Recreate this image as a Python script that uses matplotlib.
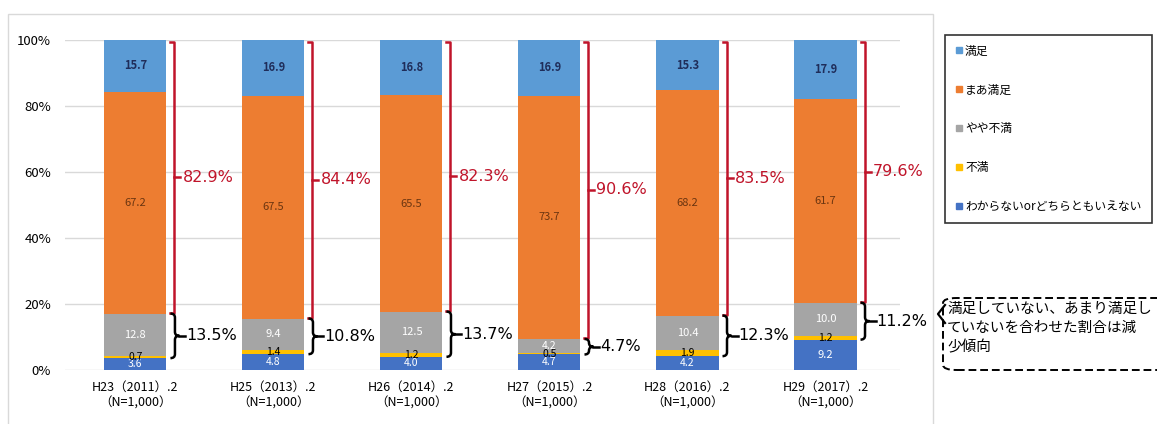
import numpy as np
import matplotlib
matplotlib.use("Agg")
import matplotlib.pyplot as plt
from matplotlib.patches import Rectangle, FancyBboxPatch, PathPatch
from matplotlib.path import Path
from matplotlib.lines import Line2D

plt.rcParams['font.family'] = ['Noto Sans CJK JP', 'DejaVu Sans']

categories = ["H23（2011）.2\n（N=1,000）", "H25（2013）.2\n（N=1,000）",
              "H26（2014）.2\n（N=1,000）", "H27（2015）.2\n（N=1,000）",
              "H28（2016）.2\n（N=1,000）", "H29（2017）.2\n（N=1,000）"]

# stacked bottom -> top
unknown      = [3.6, 4.8, 4.0, 4.7, 4.2, 9.2]
dissatisfied = [0.7, 1.4, 1.2, 0.5, 1.9, 1.2]
somewhat_dis = [12.8, 9.4, 12.5, 4.2, 10.4, 10.0]
fairly_sat   = [67.2, 67.5, 65.5, 73.7, 68.2, 61.7]
satisfied    = [15.7, 16.9, 16.8, 16.9, 15.3, 17.9]

series_names = ["わからないorどちらともいえない", "不満", "やや不満", "まあ満足", "満足"]
colors       = ["#4472C4", "#FFC000", "#A5A5A5", "#ED7D31", "#5B9BD5"]
label_colors = ["white", "black", "white", "#6B3510", "#1F2D5A"]

sat_total = [82.9, 84.4, 82.3, 90.6, 83.5, 79.6]
dis_total = [13.5, 10.8, 13.7, 4.7, 12.3, 11.2]

note = "満足していない、あまり満足し\nていないを合わせた割合は減\n少傾向"

W, H = 1157, 424
fig = plt.figure(figsize=(W / 100, H / 100), dpi=100)

def fx(px):
    return px / W

def fy(py):
    return 1 - py / H

# outer light frame
fig.patches.append(Rectangle((fx(8), fy(440)), fx(933) - fx(8), fy(14) - fy(440),
                             transform=fig.transFigure, fill=False,
                             edgecolor="#D9D9D9", lw=1))

ax_l, ax_r, ax_t, ax_b = 65, 900, 40, 370
ax = fig.add_axes([fx(ax_l), fy(ax_b), fx(ax_r - ax_l), fy(ax_t) - fy(ax_b)])

x = np.arange(len(categories))
bw = 0.45
data = [unknown, dissatisfied, somewhat_dis, fairly_sat, satisfied]
bottom = np.zeros(len(categories))
for vals, name, c, lc in zip(data, series_names, colors, label_colors):
    vals = np.array(vals)
    ax.bar(x, vals, bw, bottom=bottom, color=c, label=name, zorder=2)
    for xi, b, v in zip(x, bottom, vals):
        ax.text(xi, b + v / 2, f"{v:.1f}", ha="center", va="center",
                fontsize=7.5 if v < 5 else 8, color=lc, zorder=3,
                fontweight="bold" if lc == "#1F2D5A" else "normal")
    bottom += vals

xmin, xmax = -0.51, 5.54
ax.set_xlim(xmin, xmax)
ax.set_ylim(0, 100)
ax.set_yticks(np.arange(0, 101, 20))
ax.set_yticklabels([f"{t}%" for t in range(0, 101, 20)], fontsize=9.5)
ax.set_xticks(x)
ax.set_xticklabels(categories, fontsize=9, linespacing=1.25)
ax.tick_params(length=0, pad=8)
ax.tick_params(axis="y", pad=10)
ax.grid(axis="y", color="#D9D9D9", lw=1, zorder=0)
for s in ax.spines.values():
    s.set_visible(False)

ux = (xmax - xmin) / (ax_r - ax_l)

red = "#C0142A"
low = np.array(unknown) + np.array(dissatisfied) + np.array(somewhat_dis)
base = np.array(unknown)

def brace(x0, y0, y1, w, r):
    ym = (y0 + y1) / 2
    xm = x0 + w / 2
    verts = [(x0, y1), (xm, y1), (xm, y1 - r),
             (xm, ym + r), (xm, ym), (x0 + w, ym),
             (xm, ym), (xm, ym - r),
             (xm, y0 + r), (xm, y0), (x0, y0)]
    codes = [Path.MOVETO, Path.CURVE3, Path.CURVE3,
             Path.LINETO, Path.CURVE3, Path.CURVE3,
             Path.CURVE3, Path.CURVE3,
             Path.LINETO, Path.CURVE3, Path.CURVE3]
    return Path(verts, codes)

for i in range(len(categories)):
    # red bracket over satisfied + fairly satisfied
    xb = i + bw / 2 + 8 * ux
    top, bot = 99.4, low[i] + 0.3
    mid = (top + bot) / 2
    ax.plot([xb - 4 * ux, xb, xb, xb - 4 * ux], [top, top, bot, bot],
            color=red, lw=1.8, clip_on=False, zorder=4)
    ax.plot([xb, xb + 6 * ux], [mid, mid], color=red, lw=1.8,
            clip_on=False, zorder=4)
    ax.text(xb + 8 * ux, mid, f"{sat_total[i]:.1f}%", color=red,
            fontsize=11.5, ha="left", va="center", family="DejaVu Sans")

    # black brace over dissatisfied + somewhat dissatisfied
    xc = i + bw / 2 + 4 * ux
    y0, y1 = base[i], low[i]
    r = min(1.2, (y1 - y0) / 4)
    ax.add_patch(PathPatch(brace(xc, y0, y1, 9 * ux, r), fill=False,
                           edgecolor="black", lw=1.8, clip_on=False, zorder=4))
    ym = (y0 + y1) / 2
    ax.plot([xc + 9 * ux, xc + 15 * ux], [ym, ym], color="black", lw=1.8,
            clip_on=False, zorder=4)
    ax.text(xc + 16 * ux, ym, f"{dis_total[i]:.1f}%", color="black",
            fontsize=11.5, ha="left", va="center", family="DejaVu Sans")

# legend
leg_handles = [Line2D([], [], marker="s", ls="", color=c, markersize=4)
               for c in colors][::-1]
leg = fig.legend(leg_handles, series_names[::-1], loc="upper left",
                 bbox_to_anchor=(fx(945), fy(215), fx(1152) - fx(945), fy(35) - fy(215)),
                 mode="expand", fontsize=8.5, frameon=True, fancybox=False,
                 edgecolor="black", labelspacing=2.2, handletextpad=0.1,
                 handlelength=0.8, borderpad=0.8, borderaxespad=0)
leg.get_frame().set_linewidth(1.2)

# dashed callout
fig.patches.append(FancyBboxPatch((fx(943), fy(370)), fx(1175) - fx(943), fy(298) - fy(370),
                                  boxstyle="round,pad=0,rounding_size=0.012",
                                  transform=fig.transFigure, fill=False,
                                  edgecolor="black", lw=1.4, ls=(0, (4, 2))))
fig.lines.append(Line2D([fx(945), fx(938), fx(945)], [fy(305), fy(314), fy(323)],
                        transform=fig.transFigure, color="black", lw=1.6))
fig.text(fx(947), fy(302), note, fontsize=10.5, ha="left", va="top",
         linespacing=1.45, color="black")

fig.savefig("out.png", dpi=100)
